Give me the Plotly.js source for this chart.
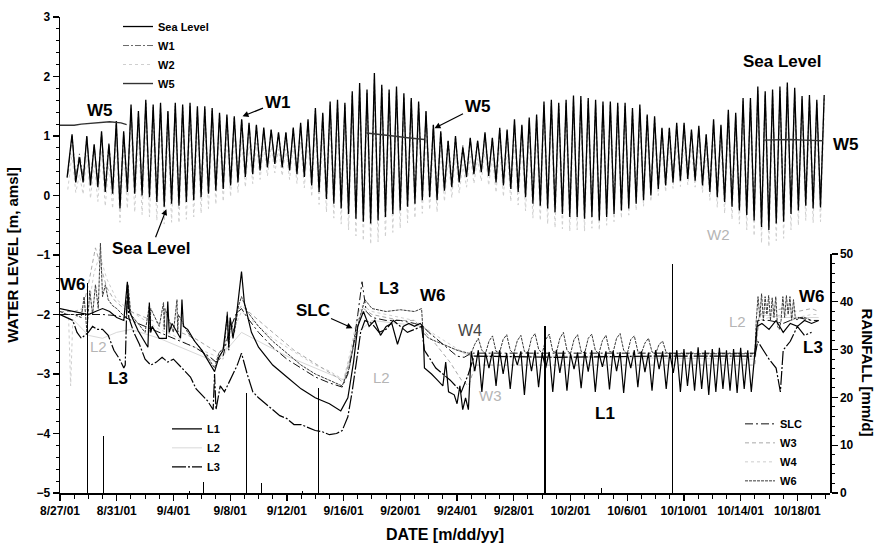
<!DOCTYPE html>
<html><head><meta charset="utf-8">
<script src="https://cdn.plot.ly/plotly-3.0.1.min.js"></script>
<style>html,body{margin:0;padding:0;background:#fff}#chart{width:875px;height:551px}</style>
</head><body><div id="chart"></div>
<script>
// ---------- DATA (day offsets since 8/27/01) ----------
const START = Date.UTC(2001, 7, 27);
const TIDE_FIRST = 0.85, TIDE_PERIOD = 0.52;

const SEA_START = [0.5, 0.30];
const SEA_HIGH = [1.03,0.64,1.00,0.86,1.08,0.86,1.25,1.08,1.53,1.42,
1.61,1.53,1.56,1.42,1.56,1.53,1.56,1.50,1.50,1.47,
1.39,1.36,1.33,1.28,1.22,1.19,1.14,1.11,1.06,1.06,
1.14,1.22,1.28,1.47,1.39,1.58,1.61,1.56,1.75,1.89,
1.78,2.06,1.86,1.78,1.83,1.72,1.64,1.58,1.42,1.19,
1.08,0.92,1.00,0.81,0.97,0.92,1.06,0.97,1.14,1.11,
1.28,1.19,1.31,1.36,1.58,1.61,1.56,1.61,1.68,1.67,
1.64,1.61,1.58,1.58,1.56,1.56,1.47,1.53,1.36,1.33,
1.14,1.14,1.22,1.22,1.11,1.17,1.03,1.28,1.19,1.44,
1.39,1.64,1.64,1.83,1.75,1.78,1.83,1.90,1.81,1.67,
1.69,1.61,1.69];
const SEA_LOW = [0.22,0.22,0.17,0.14,0.06,0.03,-0.22,0.06,0.03,0.00,
-0.03,-0.11,-0.19,-0.14,-0.17,-0.11,-0.08,-0.03,0.03,0.08,
0.11,0.17,0.22,0.31,0.36,0.42,0.47,0.53,0.47,0.42,
0.36,0.31,0.17,0.06,-0.06,-0.14,-0.22,-0.31,-0.39,-0.44,
-0.47,-0.42,-0.36,-0.31,-0.25,-0.19,-0.14,-0.08,-0.03,-0.08,
0.08,0.14,0.22,0.31,0.36,0.39,0.33,0.22,0.17,0.11,
0.06,-0.03,-0.14,-0.17,-0.22,-0.28,-0.31,-0.36,-0.36,-0.39,
-0.36,-0.42,-0.36,-0.31,-0.25,-0.22,-0.14,-0.08,0.00,0.11,
0.17,0.22,0.25,0.28,0.25,0.17,0.06,-0.03,-0.11,-0.19,
-0.25,-0.33,-0.42,-0.53,-0.58,-0.47,-0.44,-0.31,-0.25,-0.17,
-0.22,-0.20];

const W1_HIGH = [1.00,0.70,0.98,0.85,1.05,0.88,1.20,1.05,1.47,1.38,
1.55,1.48,1.50,1.40,1.50,1.48,1.50,1.45,1.45,1.42,
1.36,1.33,1.30,1.28,1.20,1.17,1.12,1.10,1.05,1.05,
1.12,1.18,1.25,1.42,1.36,1.52,1.55,1.52,1.68,1.80,
1.72,1.95,1.80,1.72,1.76,1.66,1.60,1.53,1.40,1.18,
1.06,0.93,0.98,0.84,0.95,0.92,1.03,0.96,1.10,1.08,
1.24,1.16,1.27,1.32,1.52,1.55,1.50,1.55,1.62,1.60,
1.58,1.55,1.53,1.52,1.50,1.50,1.43,1.47,1.33,1.30,
1.12,1.12,1.18,1.18,1.09,1.13,1.02,1.24,1.16,1.38,
1.35,1.58,1.58,1.76,1.70,1.72,1.76,1.82,1.75,1.62,
1.64,1.57,1.63];
const W1_LOW = [0.30,0.30,0.26,0.23,0.16,0.13,-0.08,0.15,0.12,0.10,
0.07,0.00,-0.06,-0.02,-0.05,0.00,0.03,0.08,0.13,0.17,
0.20,0.25,0.30,0.37,0.42,0.47,0.52,0.57,0.52,0.47,
0.42,0.37,0.25,0.15,0.05,-0.02,-0.10,-0.18,-0.25,-0.30,
-0.33,-0.29,-0.24,-0.19,-0.13,-0.08,-0.03,0.02,0.07,0.03,
0.16,0.22,0.29,0.36,0.41,0.44,0.39,0.29,0.25,0.19,
0.15,0.06,-0.03,-0.06,-0.10,-0.16,-0.19,-0.23,-0.23,-0.26,
-0.23,-0.28,-0.23,-0.19,-0.13,-0.10,-0.03,0.03,0.10,0.19,
0.25,0.29,0.32,0.35,0.32,0.25,0.15,0.07,0.00,-0.07,
-0.13,-0.20,-0.28,-0.38,-0.42,-0.34,-0.31,-0.19,-0.13,-0.06,
-0.10,-0.08];

const W2_HIGH = [0.70,0.35,0.68,0.55,0.75,0.55,0.90,0.75,1.15,1.05,
1.22,1.15,1.18,1.05,1.18,1.15,1.18,1.12,1.12,1.10,
1.03,1.00,0.98,0.94,0.90,0.88,0.84,0.82,0.78,0.78,
0.84,0.90,0.94,1.10,1.03,1.20,1.22,1.18,1.35,1.47,
1.38,1.60,1.44,1.38,1.42,1.33,1.26,1.20,1.06,0.86,
0.76,0.62,0.70,0.52,0.66,0.62,0.75,0.66,0.82,0.80,
0.94,0.86,0.97,1.00,1.20,1.22,1.18,1.22,1.28,1.27,
1.25,1.22,1.20,1.20,1.18,1.18,1.10,1.15,1.00,0.98,
0.82,0.82,0.88,0.88,0.80,0.84,0.74,0.94,0.86,1.08,
1.03,1.25,1.25,1.42,1.35,1.38,1.42,1.48,1.40,1.28,
1.30,1.22,1.30];
const W2_LOW = [0.05,0.02,-0.05,-0.10,-0.18,-0.22,-0.45,-0.22,-0.28,-0.32,
-0.36,-0.42,-0.48,-0.45,-0.46,-0.40,-0.36,-0.30,-0.22,-0.15,
-0.10,-0.02,0.05,0.14,0.20,0.27,0.33,0.38,0.33,0.27,
0.20,0.13,-0.02,-0.15,-0.28,-0.38,-0.48,-0.58,-0.68,-0.76,
-0.82,-0.78,-0.70,-0.62,-0.55,-0.46,-0.38,-0.30,-0.24,-0.28,
-0.10,-0.04,0.04,0.14,0.20,0.24,0.17,0.05,-0.02,-0.10,
-0.16,-0.26,-0.38,-0.42,-0.48,-0.54,-0.56,-0.60,-0.58,-0.60,
-0.55,-0.58,-0.50,-0.44,-0.38,-0.33,-0.25,-0.18,-0.10,0.00,
0.06,0.12,0.15,0.18,0.14,0.05,-0.08,-0.20,-0.30,-0.40,
-0.48,-0.58,-0.68,-0.80,-0.86,-0.76,-0.72,-0.58,-0.50,-0.42,
-0.46,-0.44];

const W5_DAY = [0,1.0,1.5,2.5,3.5,4.3,4.7,null,21.6,22.5,23.5,24.5,25.7,null,49.6,50.5,51.5,52.5,53.8];
const W5_VAL = [1.18,1.18,1.20,1.22,1.24,1.22,1.19,null,1.05,1.03,1.00,0.97,0.94,null,0.93,0.94,0.94,0.93,0.92];

const L1_DAY = [0,1.0,2.0,2.5,3.0,3.5,4.0,4.5,4.75,4.9,5.5,6.2,6.3,6.4,6.5,7.0,7.5,7.6,7.7,7.9,
8.5,8.6,8.7,9.0,9.5,10.0,10.5,10.9,11.2,11.5,11.8,11.9,12.0,12.2,12.5,12.8,13.0,13.5,14.0,15.0,
16.0,17.0,18.0,19.0,19.8,20.3,20.7,21.0,21.4,21.8,22.2,22.6,23.0,23.4,23.8,24.2,24.6,25.0,25.4,25.6,
25.7,26.2,26.6,27.0,27.2,27.4,27.8,28.0,28.2,28.4,28.6,28.8];
const L1_VAL = [-1.9,-1.95,-2.0,-1.95,-1.9,-1.95,-2.05,-2.1,-1.45,-1.95,-2.27,-2.55,-1.8,-2.3,-2.2,-2.4,-2.4,-1.78,-2.3,-2.15,
-2.4,-1.75,-2.2,-2.25,-2.45,-2.6,-2.8,-2.96,-2.72,-2.6,-2.0,-2.55,-2.05,-2.4,-1.9,-1.28,-1.8,-2.3,-2.55,-2.85,
-3.05,-3.25,-3.4,-3.5,-3.62,-3.4,-2.8,-2.2,-1.95,-2.2,-2.1,-2.35,-2.2,-2.15,-2.5,-2.2,-2.15,-2.2,-2.15,-2.2,
-2.9,-3.0,-3.1,-3.2,-2.8,-3.3,-3.35,-3.5,-3.2,-3.6,-3.4,-3.6];
const L1_BAND_START = 29.0, L1_BAND_STEP = 0.25;
const L1_BAND = [-2.62,-2.95,-2.60,-3.30, -2.64,-2.90,-2.62,-3.20, -2.60,-3.00,-2.65,-3.25, -2.66,-2.85,-2.62,-3.35,
-2.62,-2.95,-2.60,-3.22, -2.65,-2.90,-2.63,-3.30, -2.60,-2.98,-2.61,-3.28, -2.66,-2.92,-2.64,-3.24,
-2.62,-2.96,-2.60,-3.30, -2.64,-2.88,-2.62,-3.26, -2.61,-2.95,-2.63,-3.32, -2.65,-2.90,-2.60,-3.22,
-2.62,-2.97,-2.64,-3.28, -2.60,-2.92,-2.62,-3.25, -2.64,-2.98,-2.60,-3.30, -2.58,-3.20,-2.62,-3.28,
-2.55,-3.25,-2.60,-3.35, -2.58,-3.30,-2.56,-3.25, -2.60,-3.28,-2.58,-3.32, -2.56,-3.25,-2.60,-3.30];
const L1_LATE_DAY = [49.0,49.15,49.5,50.0,50.5,51.0,51.5,52.0,52.5,53.0,53.5];
const L1_LATE_VAL = [-2.65,-2.2,-2.15,-2.25,-2.1,-2.3,-2.15,-2.2,-2.1,-2.15,-2.1];

const L2_DAY = [0,1,2,3,4,5,7,9,11,12.8,14,16,18,20,21,22,25.6,27,29,49,49.3,51,53.5];
const L2_VAL = [-2.0,-2.1,-2.35,-2.4,-2.3,-2.25,-2.4,-2.6,-2.8,-2.3,-2.45,-2.7,-2.9,-3.1,-2.3,-2.1,-2.2,-2.5,-2.7,-2.75,-2.0,-2.05,-2.05];

const L3_DAY = [0,0.5,0.9,1.2,1.5,2.0,2.3,2.6,3.0,3.4,3.8,4.2,4.5,4.6,4.75,4.85,5.2,5.6,6.0,6.4,
6.8,7.2,7.6,8.0,8.4,8.8,9.2,9.6,10.0,10.4,10.8,10.9,11.0,11.3,11.6,11.9,12.2,12.5,12.8,13.2,
13.6,14.0,14.5,15.0,15.5,16.0,16.5,17.0,17.5,18.0,18.5,19.0,19.5,19.9,20.3,20.6,20.9,21.2,21.5,
22.0,22.5,23.0,23.5,24.0,24.5,25.0,25.5,25.7,26.5,27.5,28.3,28.8,29.2,35,42,49.0,49.2,49.6,50.0,
50.5,50.8,51.0,51.5,52.0,52.5,53.0];
const L3_VAL = [-2.0,-2.05,-2.1,-2.3,-2.4,-2.3,-2.2,-2.25,-2.25,-2.35,-2.6,-2.75,-2.9,-2.85,-1.5,-2.05,-2.3,-2.5,-2.75,-2.85,
-2.8,-2.72,-2.8,-2.75,-2.85,-2.95,-3.05,-3.25,-3.35,-3.45,-3.6,-3.0,-3.6,-3.2,-3.3,-3.15,-3.0,-2.85,-2.65,-3.0,
-3.3,-3.4,-3.5,-3.6,-3.7,-3.75,-3.85,-3.85,-3.9,-3.95,-3.97,-4.02,-4.0,-3.95,-3.72,-3.3,-2.8,-2.3,-2.1,
-2.15,-2.3,-2.25,-2.1,-2.2,-2.3,-2.25,-2.2,-2.6,-2.9,-3.1,-3.3,-3.0,-2.7,-2.72,-2.7,-2.7,-2.45,-2.6,-2.75,
-2.9,-3.3,-2.6,-2.45,-2.2,-2.35,-2.3];

const SLC_DAY = [0,1,2,3,4,4.6,5.5,6.5,7.5,8.5,9.5,10.5,11.0,11.5,11.9,12.4,12.8,13.2,14,15,
16,17,18,19,19.9,20.3,20.7,21.0,21.3,21.6,22,23,24,25,25.6,26.0,26.5,27,27.5,28,
28.5,29,49,49.2,50,51,52,53,53.5];
const SLC_VAL = [-2.0,-2.0,-2.0,-2.0,-2.02,-2.05,-2.15,-2.25,-2.35,-2.45,-2.55,-2.7,-2.8,-2.7,-2.3,-2.0,-1.9,-2.05,-2.3,-2.55,
-2.75,-2.9,-3.05,-3.15,-3.22,-3.0,-2.5,-2.0,-1.45,-1.95,-2.05,-2.1,-2.1,-2.15,-2.2,-2.3,-2.4,-2.5,-2.6,-2.7,
-2.72,-2.65,-2.65,-2.1,-2.1,-2.15,-2.05,-2.1,-2.1];

const W3_DAY = [0,1.0,1.6,2.0,2.5,2.9,3.3,3.8,4.5,5.5,6.5,7.5,8.5,9.5,10.5,11.2,11.8,12.4,12.8,13.5,
14.5,15.5,16.5,17.5,18.5,19.5,20.0,20.5,21.0,21.4,22,23,24,25,25.6,26.5,27.5,28.3,28.8,29.3,
49.0,49.3,50,51,52,53,53.5];
const W3_VAL = [-1.95,-1.95,-1.9,-1.5,-0.88,-1.2,-1.55,-1.75,-1.9,-2.0,-2.1,-2.2,-2.3,-2.4,-2.55,-2.65,-2.45,-2.0,-1.85,-2.0,
-2.2,-2.4,-2.6,-2.75,-2.9,-3.05,-3.15,-2.7,-2.1,-1.9,-2.0,-2.05,-2.1,-2.1,-2.25,-2.5,-2.8,-3.1,-3.2,-2.85,
-2.85,-2.0,-1.95,-1.9,-1.95,-1.9,-1.95];

const W4_DAY = [0,0.6,0.75,0.9,1.5,2.0,2.4,2.8,3.3,4,5,6,7,8,9,10,11,11.5,12.0,12.8,
13.3,14,15,16,17,18,19,20,20.5,21,21.3,22,23,24,25,25.6,26.5,27.5,28.5,28.8,
29.5,49,49.3,50,51,52,53,53.5];
const W4_VAL = [-1.95,-2.0,-3.2,-2.1,-1.95,-1.9,-1.3,-1.0,-1.4,-1.75,-1.95,-2.1,-2.25,-2.35,-2.5,-2.6,-2.7,-2.75,-2.4,-1.95,
-2.05,-2.2,-2.4,-2.55,-2.7,-2.85,-2.95,-3.1,-2.6,-2.0,-1.85,-1.95,-2.0,-2.05,-2.1,-2.2,-2.35,-2.5,-2.65,-2.68,
-2.7,-2.7,-2.1,-2.05,-2.0,-2.05,-2.0,-2.0];

const W6_DAY = [0,0.5,1.0,1.5,1.7,1.9,2.1,2.3,2.5,2.7,2.85,3.0,3.2,3.4,3.7,4.0,4.4,4.7,4.8,5.0,
5.5,6.0,6.3,6.35,6.4,7.0,7.3,7.35,7.4,8.0,8.25,8.3,8.35,9.0,9.5,10.0,10.5,10.9,11.2,11.6,
11.8,11.9,12.0,12.3,12.6,12.8,13.2,14,15,16,17,18,19,19.9,20.4,20.8,21.2,21.5,22,23,
24,25,25.5,25.6,26.0,27.0,28.0,28.8];
const W6_VAL = [-1.95,-2.0,-2.0,-2.05,-1.7,-2.3,-1.6,-2.0,-1.5,-1.9,-0.8,-1.7,-1.5,-1.75,-1.85,-1.9,-2.0,-2.05,-1.5,-2.0,
-2.15,-2.3,-1.85,-2.3,-1.9,-2.2,-1.8,-2.25,-1.9,-2.3,-1.75,-2.3,-2.0,-2.3,-2.45,-2.6,-2.75,-2.9,-2.65,-2.55,
-1.95,-2.6,-2.1,-2.3,-1.85,-1.7,-1.95,-2.2,-2.45,-2.65,-2.85,-3.0,-3.1,-3.2,-2.9,-2.4,-2.0,-1.75,-1.9,-1.95,
-1.92,-1.95,-1.9,-2.3,-2.4,-2.5,-2.6,-2.65];
const W6_ARCH_START = 29.0, W6_ARCH_STEP = 0.25;
const W6_ARCH = [-2.65,-2.50,-2.40,-2.60, -2.66,-2.45,-2.36,-2.62, -2.64,-2.42,-2.34,-2.60, -2.66,-2.44,-2.35,-2.62,
-2.65,-2.40,-2.32,-2.58, -2.66,-2.42,-2.33,-2.62, -2.64,-2.40,-2.30,-2.60, -2.66,-2.42,-2.34,-2.62,
-2.65,-2.40,-2.33,-2.60, -2.66,-2.44,-2.35,-2.62, -2.64,-2.40,-2.32,-2.60, -2.66,-2.42,-2.36,-2.62,
-2.65,-2.48,-2.40,-2.63, -2.66,-2.50,-2.45,-2.64];
const W6_MID_DAY = [43.0,46.0,49.0];
const W6_MID_VAL = [-2.66,-2.66,-2.66];
const W6_BLOCK_START = 49.1, W6_BLOCK_STEP = 0.125;
const W6_BLOCK = [-2.1,-1.7,-2.05,-1.65,-2.1,-1.7,-2.0,-1.68,-2.1,-1.72,-2.05,-1.7,
-2.2,-2.25,-2.1,-1.7,-2.05,-1.68,-2.0,-1.7,-2.1,-1.75,-2.05,-2.1,-2.05];
const W6_END_DAY = [52.5,53.0];
const W6_END_VAL = [-2.05,-2.1];

const RAIN_DAY = [1.95,3.1,9.1,10.1,13.15,14.2,17.1,18.2,34.2,38.2,43.2];
const RAIN_MM  = [44,12,0.5,2.3,21,2,0.5,22,35,1,48];

// ---------- helpers ----------
function dt(d){ const t = new Date(START + d*864e5); return t.toISOString().slice(0,19).replace('T',' '); }
function days(arr){ return arr.map(d => d === null ? null : dt(d)); }
function tide(highs, lows, start){
  const x = [], y = [];
  if(start){ x.push(dt(start[0])); y.push(start[1]); }
  for(let i=0;i<highs.length;i++){
    x.push(dt(TIDE_FIRST + i*TIDE_PERIOD)); y.push(highs[i]);
    if(i<lows.length){ x.push(dt(TIDE_FIRST + (i+0.5)*TIDE_PERIOD)); y.push(lows[i]); }
  }
  return {x, y};
}
function seg(start, step, vals){ return {x: vals.map((v,i)=>dt(start+i*step)), y: vals.slice()}; }
function joinSeries(parts){ const x=[],y=[]; parts.forEach(p=>{x.push(...p.x); y.push(...p.y);}); return {x,y}; }
function pairs(d,v){ return {x: days(d), y: v.slice()}; }

const sea = tide(SEA_HIGH, SEA_LOW, SEA_START);
const w1 = tide(W1_HIGH, W1_LOW, [0.55, 0.35]);
const w2 = tide(W2_HIGH, W2_LOW, [0.55, 0.10]);
const l1 = joinSeries([pairs(L1_DAY,L1_VAL), seg(L1_BAND_START,L1_BAND_STEP,L1_BAND), pairs(L1_LATE_DAY,L1_LATE_VAL)]);
const w6 = joinSeries([pairs(W6_DAY,W6_VAL), seg(W6_ARCH_START,W6_ARCH_STEP,W6_ARCH), pairs(W6_MID_DAY,W6_MID_VAL),
  seg(W6_BLOCK_START,W6_BLOCK_STEP,W6_BLOCK), pairs(W6_END_DAY,W6_END_VAL)]);

const FONT = 'Liberation Sans, Arial, Helvetica, sans-serif';
function ln(color, width, dash){ return {color, width, dash: dash || 'solid'}; }

const traces = [
  {name:'W2', x:w2.x, y:w2.y, mode:'lines', line:ln('#cfcfcf',1,'dot'), legend:'legend', legendrank:3},
  {name:'W1', x:w1.x, y:w1.y, mode:'lines', line:ln('#6a6a6a',1,'6px,2px,2px,2px'), legend:'legend', legendrank:2},
  {name:'Sea Level', x:sea.x, y:sea.y, mode:'lines', line:ln('#000',1.3), legend:'legend', legendrank:1},
  {name:'W5', x:days(W5_DAY), y:W5_VAL, mode:'lines', connectgaps:false, line:ln('#333',1.4), legend:'legend', legendrank:4},

  {name:'L2', x:days(L2_DAY), y:L2_VAL, mode:'lines', line:ln('#d8d8d8',1), legend:'legend2', legendrank:2},
  {name:'W4', x:days(W4_DAY), y:W4_VAL, mode:'lines', line:ln('#cdcdcd',1,'dot'), legend:'legend3', legendrank:3},
  {name:'W3', x:days(W3_DAY), y:W3_VAL, mode:'lines', line:ln('#a8a8a8',1,'4px,3px'), legend:'legend3', legendrank:2},
  {name:'W6', x:w6.x, y:w6.y, mode:'lines', line:ln('#3a3a3a',1,'3px,1px'), legend:'legend3', legendrank:4},
  {name:'SLC', x:days(SLC_DAY), y:SLC_VAL, mode:'lines', line:ln('#111',1,'8px,3px,2px,3px'), legend:'legend3', legendrank:1},
  {name:'L3', x:days(L3_DAY), y:L3_VAL, mode:'lines', line:ln('#000',1.2,'14px,2px,2px,2px'), legend:'legend2', legendrank:3},
  {name:'L1', x:l1.x, y:l1.y, mode:'lines', line:ln('#000',1.2), legend:'legend2', legendrank:1},

  {name:'Rainfall', type:'bar', x:days(RAIN_DAY), y:RAIN_MM, yaxis:'y2', width:0.075*864e5,
   marker:{color:'#000', line:{width:0}}, showlegend:false}
];

function pa(text, px, py, opts){
  return Object.assign({xref:'paper', yref:'paper', x:(px-60)/770, y:(493-py)/478, text, showarrow:false,
    xanchor:'center', yanchor:'middle', font:{family:FONT, size:17, color:'#000', weight:700}}, opts||{});
}
function arr(text, d, v, ax, ay){
  return {xref:'x', yref:'y', x:dt(d), y:v, text, showarrow:true, ax, ay, arrowhead:2, arrowsize:1, arrowwidth:1.2,
    arrowcolor:'#000', font:{family:FONT, size:17, color:'#000', weight:700}};
}
const grayFont = {family:FONT, size:15, color:'#b5b5b5', weight:400};

const annotations = [
  pa('W5', 100, 109),
  pa('Sea Level', 782, 60),
  pa('W5', 846, 143),
  pa('W2', 718, 233, {font:grayFont}),
  arr('W1', 12.87, 1.33, 35, -14),
  arr('W5', 26.41, 1.13, 43, -22),
  arr('Sea Level', 7.50, -0.23, -15, 39),
  arr('SLC', 20.63, -2.23, -40, -18),
  pa('W6', 73, 284),
  pa('L2', 98, 346, {font:grayFont}),
  pa('L3', 118, 378),
  pa('L3', 389, 288),
  pa('W6', 433, 295),
  pa('W4', 470, 330, {font:{family:FONT, size:16, color:'#444', weight:400}}),
  pa('L2', 381, 377, {font:grayFont}),
  pa('W3', 490, 395, {font:grayFont}),
  pa('L1', 605, 413),
  pa('L2', 737, 321, {font:grayFont}),
  pa('W6', 812, 296),
  pa('L3', 813, 347),
  {xref:'paper', yref:'paper', x:(867-60)/770, y:(493-372)/478, text:'RAINFALL [mm/d]', showarrow:false,
   textangle:90, xanchor:'center', yanchor:'middle', font:{family:FONT, size:15, color:'#000', weight:700}}
];

const legFont = {family:FONT, size:11, color:'#000', weight:700};
const layout = {
  width:875, height:551,
  margin:{l:60, r:45, t:15, b:58},
  paper_bgcolor:'#fff', plot_bgcolor:'rgba(0,0,0,0)',
  font:{family:FONT, size:12, color:'#000'},
  showlegend:true,
  xaxis:{type:'date', range:[dt(0), dt(54.3)], tick0:dt(0), dtick:4*864e5, tickformat:'%-m/%-d/%y',
    ticks:'outside', ticklen:6, tickwidth:1.3, tickcolor:'#000',
    minor:{dtick:864e5, ticks:'outside', ticklen:4, tickwidth:1, tickcolor:'#000'},
    showline:true, linecolor:'#000', linewidth:1.5, showgrid:false, zeroline:false, anchor:'y',
    tickfont:{family:FONT, size:12, weight:700},
    title:{text:'DATE [m/dd/yy]', font:{family:FONT, size:16, weight:700}, standoff:12}},
  yaxis:{range:[-5,3], dtick:1, ticks:'outside', ticklen:6, tickwidth:1.3, tickcolor:'#000',
    minor:{dtick:0.2, ticks:'outside', ticklen:3, tickwidth:1, tickcolor:'#000'},
    showline:true, linecolor:'#000', linewidth:1.5, showgrid:false, zeroline:false,
    tickfont:{family:FONT, size:12, weight:700},
    title:{text:'WATER LEVEL [m, amsl]', font:{family:FONT, size:15, weight:700}, standoff:14}},
  yaxis2:{domain:[0,0.502], range:[0,50], anchor:'x', side:'right', dtick:10,
    ticks:'outside', ticklen:6, tickwidth:1.3, tickcolor:'#000',
    minor:{dtick:2, ticks:'outside', ticklen:3, tickwidth:1, tickcolor:'#000'},
    showline:true, linecolor:'#000', linewidth:1.5, showgrid:false, zeroline:false,
    tickfont:{family:FONT, size:12, weight:700}},
  legend:{x:(118-60)/770, y:(493-10)/478, xanchor:'left', yanchor:'top', bgcolor:'rgba(0,0,0,0)', font:legFont, tracegroupgap:0},
  legend2:{x:(167-60)/770, y:(493-414)/478, xanchor:'left', yanchor:'top', bgcolor:'rgba(0,0,0,0)', font:legFont, tracegroupgap:0},
  legend3:{x:(740-60)/770, y:(493-409)/478, xanchor:'left', yanchor:'top', bgcolor:'rgba(0,0,0,0)', font:legFont, tracegroupgap:0},
  annotations,
  bargap:0
};

Plotly.newPlot('chart', traces, layout, {displayModeBar:false, staticPlot:true});
</script>
</body></html>
